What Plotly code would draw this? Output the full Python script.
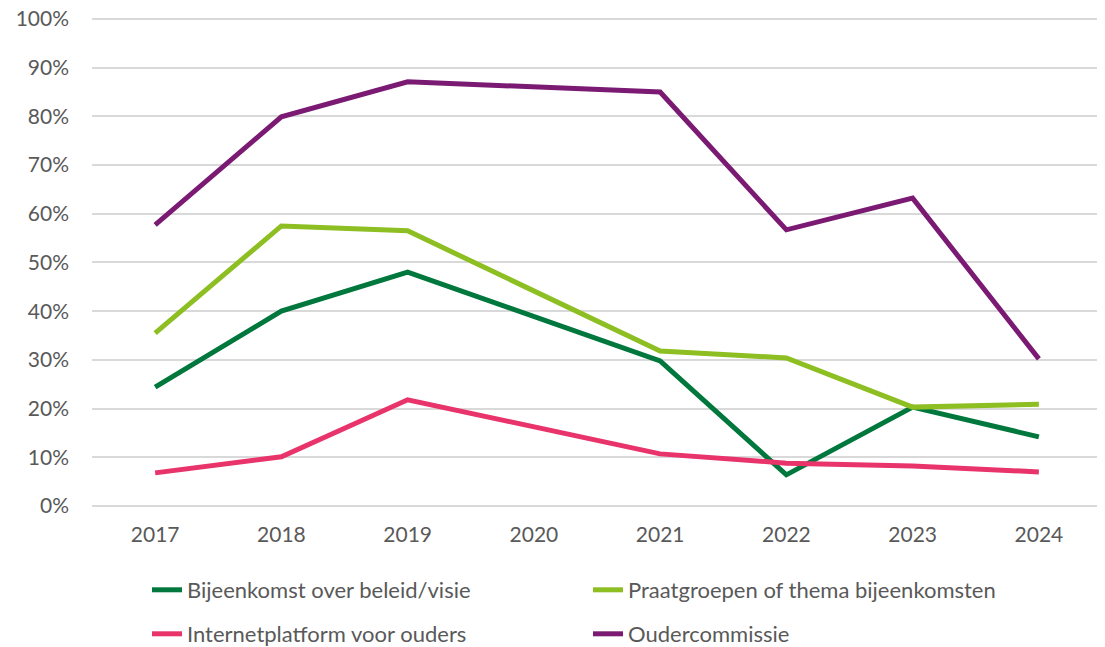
import plotly.graph_objects as go

years = ["2017", "2018", "2019", "2020", "2021", "2022", "2023", "2024"]

bijeenkomst = [24.4, 40.0, 48.0, None, 29.8, 6.4, 20.3, 14.2]
praatgroepen = [35.5, 57.5, 56.5, None, 31.8, 30.4, 20.3, 20.9]
internetplatform = [6.8, 10.1, 21.8, None, 10.7, 8.8, 8.2, 7.0]
oudercommissie = [57.7, 79.9, 87.1, None, 85.0, 56.7, 63.2, 30.2]

y_ticks = [0, 10, 20, 30, 40, 50, 60, 70, 80, 90, 100]
y_tick_labels = ["0%", "10%", "20%", "30%", "40%", "50%", "60%", "70%", "80%", "90%", "100%"]

FONT = "Lato, 'Open Sans', Arial, sans-serif"
TEXT = "#595959"

# page body has an 8px margin, so the figure is drawn a bit smaller
W, H = 1097, 639

series = [
    ("Bijeenkomst over beleid/visie", bijeenkomst, "#00773C", "legend"),
    ("Praatgroepen of thema bijeenkomsten", praatgroepen, "#8DBE22", "legend"),
    ("Internetplatform voor ouders", internetplatform, "#E8336B", "legend2"),
    ("Oudercommissie", oudercommissie, "#7B1A73", "legend2"),
]

fig = go.Figure()
for name, values, color, legend in series:
    fig.add_trace(
        go.Scatter(
            x=years,
            y=values,
            mode="lines",
            name=name,
            connectgaps=True,
            line={"color": color, "width": 5},
            legend=legend,
        )
    )

legend_common = {
    "orientation": "h",
    "xref": "container",
    "yref": "container",
    "xanchor": "left",
    "yanchor": "middle",
    "entrywidth": 396,
    "font": {"family": FONT, "size": 22, "color": TEXT},
    "bgcolor": "rgba(0,0,0,0)",
}

fig.update_layout(
    width=W,
    height=H,
    plot_bgcolor="white",
    paper_bgcolor="white",
    margin={"l": 84, "r": 3, "t": 8, "b": 141},
    showlegend=True,
    legend={**legend_common, "x": 139 / W, "y": 1 - 582 / H},
    legend2={**legend_common, "x": 139 / W, "y": 1 - 626 / H},
    font={"family": FONT, "color": TEXT, "size": 21},
)
fig.update_xaxes(
    type="category",
    range=[-0.5, 7.5],
    showgrid=False,
    showline=False,
    ticks="",
    automargin=False,
    tickfont={"family": FONT, "size": 21, "color": TEXT},
    ticklabelstandoff=14,
)
fig.update_yaxes(
    range=[0, 100.6],
    tickmode="array",
    tickvals=y_ticks,
    ticktext=y_tick_labels,
    ticklabeloverflow="allow",
    automargin=False,
    showgrid=True,
    gridcolor="#D9D9D9",
    gridwidth=1.5,
    zeroline=True,
    zerolinecolor="#D9D9D9",
    zerolinewidth=1.5,
    showline=False,
    tickfont={"family": FONT, "size": 21, "color": TEXT},
    ticklabelstandoff=22,
)

fig.write_html("out.html")
